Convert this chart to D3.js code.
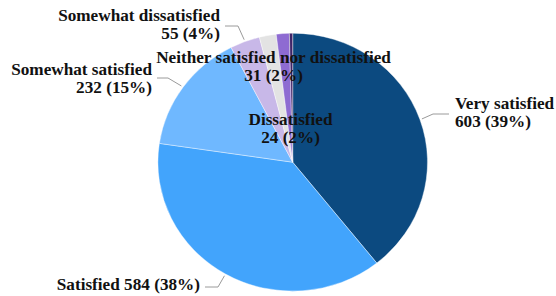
<!DOCTYPE html>
<html>
<head>
<meta charset="utf-8">
<script src="https://cdn.jsdelivr.net/npm/d3@7"></script>
<style>
  body { margin: 0; background: #fff; }
  svg { display: block; }
</style>
</head>
<body>
<svg id="chart" width="556" height="296"></svg>
<script>
// satisfaction survey counts, clockwise from 12 o'clock
const categories = ["Very satisfied", "Satisfied", "Somewhat satisfied", "Somewhat dissatisfied",
                    "Neither satisfied nor dissatisfied", "Dissatisfied", "Very dissatisfied"];
const counts = [603, 584, 232, 55, 31, 24, 6];
const pctLabels = ["39%", "38%", "15%", "4%", "2%", "2%", ""];
const colors = ["#0c4a80", "#42a4fc", "#6fb8ff", "#c8b8e8", "#e3e3e3", "#8e6bd2", "#3f2468"];

const W = 556, H = 296;
const cx = 292.7, cy = 162.2, r = 129, sx = 1.045;  // pie is a bit wider than tall in the original

// where each label sits (null = not shown)
const labelLayout = [
  {x: 455, y: 109, anchor: "start", twoLines: true, elbow: [433, 114], end: [449, 114]},
  {x: 200, y: 290, anchor: "end", twoLines: false, elbow: [218, 287], end: [205, 287]},
  {x: 152, y: 75, anchor: "end", twoLines: true, elbow: [168, 78], end: [157, 78]},
  {x: 220, y: 21, anchor: "end", twoLines: true, elbow: [238, 26], end: [225, 26]},
  {x: 273.5, y: 63, anchor: "middle", twoLines: true, elbow: null},
  {x: 290.5, y: 125, anchor: "middle", twoLines: true, elbow: null},
  null
];

const svg = d3.select("#chart");

const data = categories.map((c, i) => ({name: c, value: counts[i], pct: pctLabels[i], color: colors[i]}));

const pie = d3.pie().sort(null).value(d => d.value);
const arcs = pie(data);
const arc = d3.arc().innerRadius(0).outerRadius(r);

let g = svg.append("g")
    .attr("transform", "translate(" + cx + "," + cy + ") scale(" + sx + ",1)");

g.selectAll("path")
    .data(arcs)
    .enter().append("path")
    .attr("d", arc)
    .attr("fill", d => d.data.color)
    .attr("stroke", "#fff")
    .attr("stroke-width", 0.4);

// leader lines, from the rim at the slice mid angle
let labels = svg.append("g");
arcs.forEach(function (d, i) {
    let L = labelLayout[i];
    if (!L) return;
    if (L.elbow) {
        let a = (d.startAngle + d.endAngle) / 2;
        let p0 = [cx + Math.sin(a) * (r + 2) * sx, cy - Math.cos(a) * (r + 2)];
        labels.append("path")
            .attr("d", d3.line()([p0, L.elbow, L.end]))
            .style("fill", "none")
            .style("stroke", "#9a9a9a")
            .style("stroke-width", 1);
    }
    let t = labels.append("text")
        .attr("text-anchor", L.anchor)
        .attr("x", L.x)
        .attr("y", L.y)
        .style("font-family", "'Liberation Serif'")
        .style("font-weight", "bold")
        .style("font-size", "17.2px")
        .style("fill", "#111");
    let valText = d.data.value + " (" + d.data.pct + ")";
    if (L.twoLines) {
        t.append("tspan").attr("x", L.x).text(d.data.name);
        t.append("tspan").attr("x", L.x).attr("dy", 17.5).text(valText);
    } else {
        t.text(d.data.name + " " + valText);
    }
});
</script>
</body>
</html>
